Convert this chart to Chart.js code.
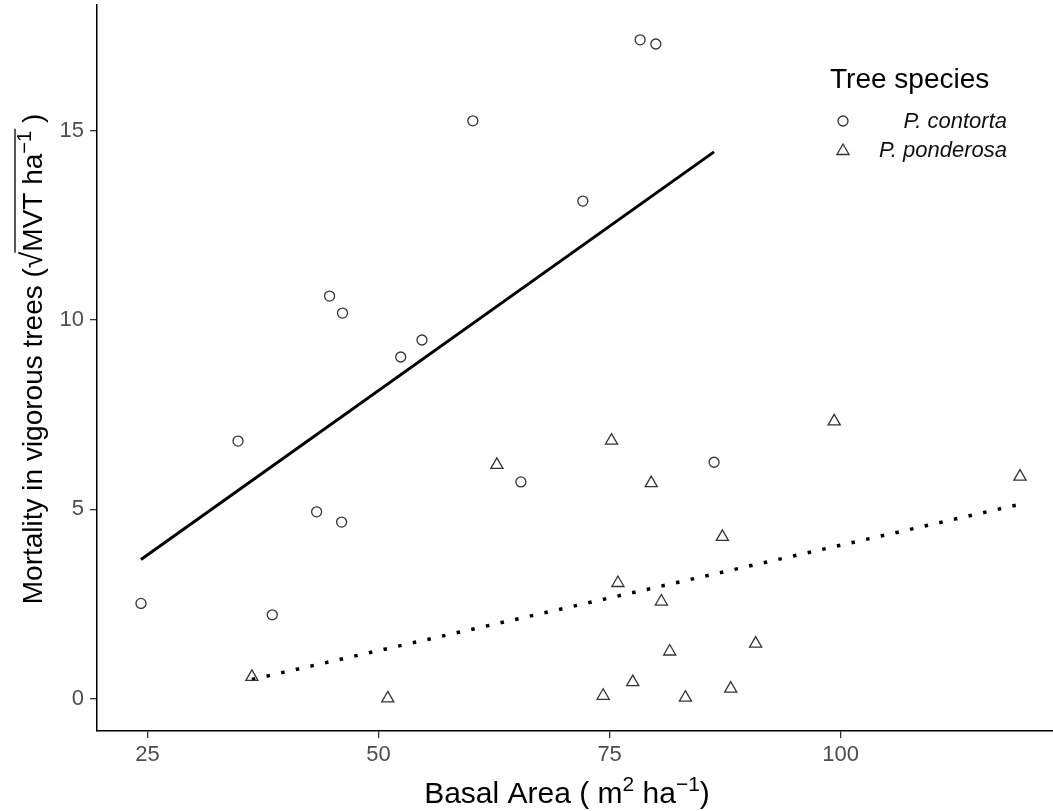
<!doctype html>
<html lang="en">
<head>
    <meta charset="utf-8">
    <title>Mortality vs Basal Area</title>
    <script src="https://cdn.jsdelivr.net/npm/chart.js@4.4.1/dist/chart.umd.min.js"></script>
</head>
<style>
    body{
        margin: 0;
        background: #fff;
    }
</style>
<body>
    <canvas id="myChart" width="1053" height="811"></canvas>

  <script>
        // values
        let contortaX = [24.3, 34.8, 38.5, 43.3, 44.7, 46.0, 46.1, 52.4, 54.7, 60.2, 65.4, 72.1, 78.3, 80.0, 86.3];
        let contortaY = [2.51, 6.80, 2.21, 4.93, 10.63, 4.66, 10.18, 9.02, 9.47, 15.26, 5.72, 13.14, 17.40, 17.29, 6.24];

        let ponderosaX = [36.3, 51.0, 62.8, 74.3, 75.2, 75.9, 77.5, 79.5, 80.6, 81.5, 83.2, 87.2, 88.1, 90.8, 99.3, 119.4];
        let ponderosaY = [0.57, 0.00, 6.17, 0.07, 6.81, 3.05, 0.43, 5.69, 2.56, 1.24, 0.02, 4.27, 0.26, 1.45, 7.32, 5.86];

        // fitted lines (end points)
        let contortaFitX = [24.3, 86.3];
        let contortaFitY = [3.67, 14.44];
        let ponderosaFitX = [36.3, 119.4];
        let ponderosaFitY = [0.50, 5.13];

        let xTicks = [25, 50, 75, 100];
        let yTicks = [0, 5, 10, 15];

        let legendTitle = "Tree species";
        let speciesNames = ["P. contorta", "P. ponderosa"];

        let FONT = "'Liberation Sans', Arial, sans-serif";

        let toPoints = (xs, ys) => xs.map((x, i) => ({x: x, y: ys[i]}));

        // draws text pieces one after another, superscripts raised
        let drawRuns = (ctx, runs, cx, baseY) => {
            let total = 0;
            runs.forEach(r => {
                ctx.font = (r.italic ? "italic " : "") + r.size + "px " + FONT;
                r.w = ctx.measureText(r.t).width;
                total += r.w;
            });
            let x = cx - total / 2;
            ctx.textAlign = "left";
            ctx.textBaseline = "alphabetic";
            runs.forEach(r => {
                ctx.font = (r.italic ? "italic " : "") + r.size + "px " + FONT;
                r.x0 = x;
                ctx.fillText(r.t, x, baseY + (r.dy || 0));
                x += r.w;
                r.x1 = x;
            });
            return runs;
        };

        let labelsPlugin = {
            id: "labels",
            afterDraw(chart){
                let ctx = chart.ctx;
                ctx.save();
                ctx.fillStyle = "#000";

                // x axis title
                drawRuns(ctx, [
                    {t: "Basal Area ( m", size: 30},
                    {t: "2", size: 21, dy: -12},
                    {t: " ha", size: 30},
                    {t: "\u22121", size: 21, dy: -12},
                    {t: ")", size: 30}
                ], 567, 803);

                // y axis title, rotated
                ctx.save();
                ctx.translate(42, 359);
                ctx.rotate(-Math.PI / 2);
                let runs = drawRuns(ctx, [
                    {t: "Mortality in vigorous trees (", size: 28},
                    {t: "\u221A", size: 30},
                    {t: "MVT ha", size: 28},
                    {t: "\u22121", size: 20, dy: -11},
                    {t: " )", size: 28}
                ], 0, 0);
                ctx.strokeStyle = "#000";
                ctx.lineWidth = 1.3;
                ctx.beginPath();
                ctx.moveTo(runs[1].x1 - 1, -27);
                ctx.lineTo(runs[3].x1 + 2, -27);
                ctx.stroke();
                ctx.restore();

                // legend
                ctx.fillStyle = "#000";
                ctx.font = "28px " + FONT;
                ctx.textAlign = "left";
                ctx.textBaseline = "alphabetic";
                ctx.fillText(legendTitle, 830, 88);

                ctx.strokeStyle = "#333";
                ctx.lineWidth = 1.3;
                ctx.beginPath();
                ctx.arc(843, 121, 5, 0, Math.PI * 2);
                ctx.stroke();
                let r = 7;
                ctx.beginPath();
                ctx.moveTo(843, 151 - r);
                ctx.lineTo(843 + r * 0.866, 151 + r / 2);
                ctx.lineTo(843 - r * 0.866, 151 + r / 2);
                ctx.closePath();
                ctx.stroke();

                ctx.font = "italic 22px " + FONT;
                ctx.textAlign = "right";
                ctx.textBaseline = "middle";
                ctx.fillStyle = "#111";
                ctx.fillText(speciesNames[0], 1007, 122);
                ctx.fillText(speciesNames[1], 1007, 151);
                ctx.restore();
            }
        };

        let ctx = document.getElementById("myChart");
        let myChart = new Chart(ctx, {
            type: "scatter",
            data: {
                datasets: [{
                    label: speciesNames[0],
                    data: toPoints(contortaX, contortaY),
                    pointStyle: "circle",
                    pointRadius: 5,
                    backgroundColor: "rgba(0,0,0,0)",
                    borderColor: "#333",
                    borderWidth: 1.3
                }, {
                    label: speciesNames[1],
                    data: toPoints(ponderosaX, ponderosaY),
                    pointStyle: "triangle",
                    pointRadius: 7,
                    backgroundColor: "rgba(0,0,0,0)",
                    borderColor: "#333",
                    borderWidth: 1.3
                }, {
                    label: "fit contorta",
                    data: toPoints(contortaFitX, contortaFitY),
                    showLine: true,
                    pointRadius: 0,
                    borderColor: "#000",
                    borderWidth: 3
                }, {
                    label: "fit ponderosa",
                    data: toPoints(ponderosaFitX, ponderosaFitY),
                    showLine: true,
                    pointRadius: 0,
                    borderColor: "#000",
                    borderWidth: 3.5,
                    borderDash: [3.5, 11.5],
                    borderCapStyle: "butt"
                }]
            },
            options: {
                responsive: false,
                devicePixelRatio: 1,
                animation: false,
                layout: {autoPadding: false, padding: {top: 5, right: 0, left: 0, bottom: 0}},
                plugins: {
                    legend: {display: false},
                    tooltip: {enabled: false}
                },
                scales: {
                    x: {
                        type: "linear",
                        min: 19.54,
                        max: 122.97,
                        afterBuildTicks: s => { s.ticks = xTicks.map(v => ({value: v})); },
                        afterFit: s => {
                            s.height = 80;
                            s.paddingLeft = 0;
                            s.paddingRight = 0;
                        },
                        ticks: {
                            font: {family: FONT, size: 22},
                            color: "#4d4d4d",
                            padding: 4,
                            maxRotation: 0,
                            autoSkip: false
                        },
                        grid: {drawOnChartArea: false, drawTicks: true, tickLength: 7, color: "#333", lineWidth: 1.3},
                        border: {color: "#000", width: 1.5}
                    },
                    y: {
                        type: "linear",
                        min: -0.86,
                        max: 18.32,
                        afterBuildTicks: s => { s.ticks = yTicks.map(v => ({value: v})); },
                        afterFit: s => {
                            s.width = 97;
                            s.paddingTop = 0;
                            s.paddingBottom = 0;
                        },
                        ticks: {
                            font: {family: FONT, size: 22},
                            color: "#4d4d4d",
                            padding: 6,
                            autoSkip: false
                        },
                        grid: {drawOnChartArea: false, drawTicks: true, tickLength: 7, color: "#333", lineWidth: 1.3},
                        border: {color: "#000", width: 1.5}
                    }
                }
            },
            plugins: [labelsPlugin]
        });
  </script>
</body>
</html>
